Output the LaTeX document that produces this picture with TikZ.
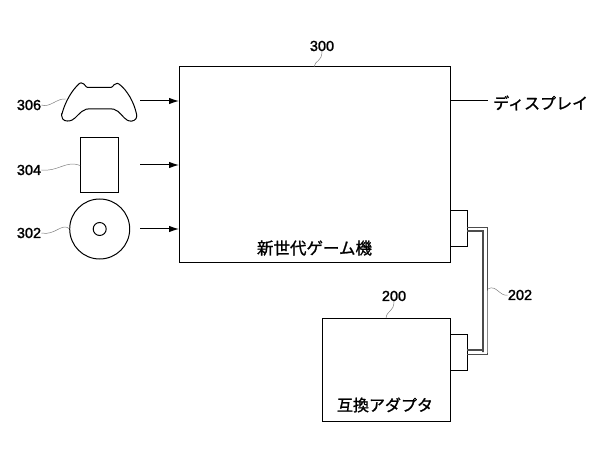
\documentclass[tikz,border=0pt]{standalone}
\usepackage{fontspec}
\setmainfont{Liberation Sans}
\newfontfamily\numfont[FakeBold=1.6]{Liberation Sans}
\newfontfamily\cjk[FakeBold=1.2]{Noto Sans CJK JP}
\usetikzlibrary{
  arrows.meta,
  calc,
  positioning}

\tikzset{
  box/.style={draw,line width=1pt,inner sep=0pt,outer sep=0pt},
  refnum/.style={inner sep=0pt,font=\numfont\fontsize{14.5}{14.5}\selectfont},
  jptext/.style={inner sep=0pt,font=\cjk\fontsize{16}{16}\selectfont},
  lead/.style={gray,line width=0.5pt},
  inarrow/.style={-{Latex[length=10pt,width=6.5pt]},line width=1pt}
}

\begin{document}
\begin{tikzpicture}[x=1pt,y=-1pt]
        \useasboundingbox (0,0) rectangle (594,470);

        \node[box,minimum width=271pt,minimum height=196pt] (game) at (314.5,165) {};
        \node[box,minimum width=17pt,minimum height=36pt,anchor=west] (gameport) at (game.east |- 0,229) {};
        \node[jptext,font=\cjk\fontsize{16.5}{16.5}\selectfont] (gamename) at (314.5,248) {新世代ゲーム機};

        \node[box,minimum width=128pt,minimum height=103pt] (adapter) at (386,369.5) {};
        \node[box,minimum width=17pt,minimum height=36pt,anchor=west] (adapterport) at (adapter.east |- 0,352) {};
        \node[jptext] (adaptername) at (385,405) {互換アダプタ};

        % input devices
        \draw[line width=1pt,rounded corners=1pt] (61.7,115) .. controls (62,121) and (66.7,121.5) .. (71,120.5)
            .. controls (76,118.5) and (80,111) .. (87,109) -- (113,109)
            .. controls (120,111) and (123,118) .. (128,120.5)
            .. controls (132,122) and (137,120) .. (136.7,115)
            .. controls (134,102) and (127,90) .. (118.3,83.5)
            .. controls (115,83) and (113,86) .. (111.7,87.5) -- (86.7,87.5)
            .. controls (85,85) and (83,82.5) .. (80,83)
            .. controls (72,90) and (65,102) .. (61.7,115) -- cycle;
        \node[box,minimum width=38pt,minimum height=55pt] (card) at (99,165.5) {};
        \node[box,circle,minimum size=60pt] (disc) at (99.7,229) {};
        \node[box,circle,minimum size=13pt] (hole) at (99.7,229) {};

        \foreach \i/\j in {a/101,b/165,c/229} {
            \coordinate (in\i) at (140,\j);
            \draw[inarrow] (in\i)--(in\i -| game.west);
        }

        % display
        \coordinate (dispout) at (488,101);
        \draw[line width=1pt] (game.east |- dispout)--(dispout);
        \node[jptext,anchor=west] (display) at (493,103) {ディスプレイ};

        % cable
        \draw[black!70,line width=0.9pt] ($(gameport.east)+(0,-2)$)-|($(adapterport.east)+(20,0)$)|-($(adapterport.east)+(0,2)$);
        \draw[black!70,line width=1.6pt] ($(gameport.east)+(0,2)$)-|($(adapterport.east)+(16,0)$)|-($(adapterport.east)+(0,-2)$);

        % reference numerals
        \node[refnum] (n306) at (29,105) {306};
        \node[refnum] (n304) at (29,170) {304};
        \node[refnum] (n302) at (29,233) {302};
        \node[refnum] (n300) at (322,46) {300};
        \node[refnum] (n200) at (394,296) {200};
        \node[refnum] (n202) at (520,295) {202};

        \draw[lead] (n306.east) .. controls (50,108) and (57,98) .. (65.5,99);
        \draw[lead] (n304.east) .. controls (58,172) and (66,160) .. (card.west);
        \draw[lead] (n302.east) .. controls (55,236) and (62,222) .. (disc.west);
        \coordinate (top300) at (314,67);
        \draw[lead] (top300) .. controls (315,60) and (322,62) .. (n300.south);
        \coordinate (top200) at (386,318);
        \draw[lead] (top200) .. controls (387,310) and (394,312) .. (n200.south);
        \coordinate (cab202) at (488,289);
        \draw[lead] (cab202) .. controls (496,284) and (500,297) .. (n202.west);
\end{tikzpicture}
\end{document}
